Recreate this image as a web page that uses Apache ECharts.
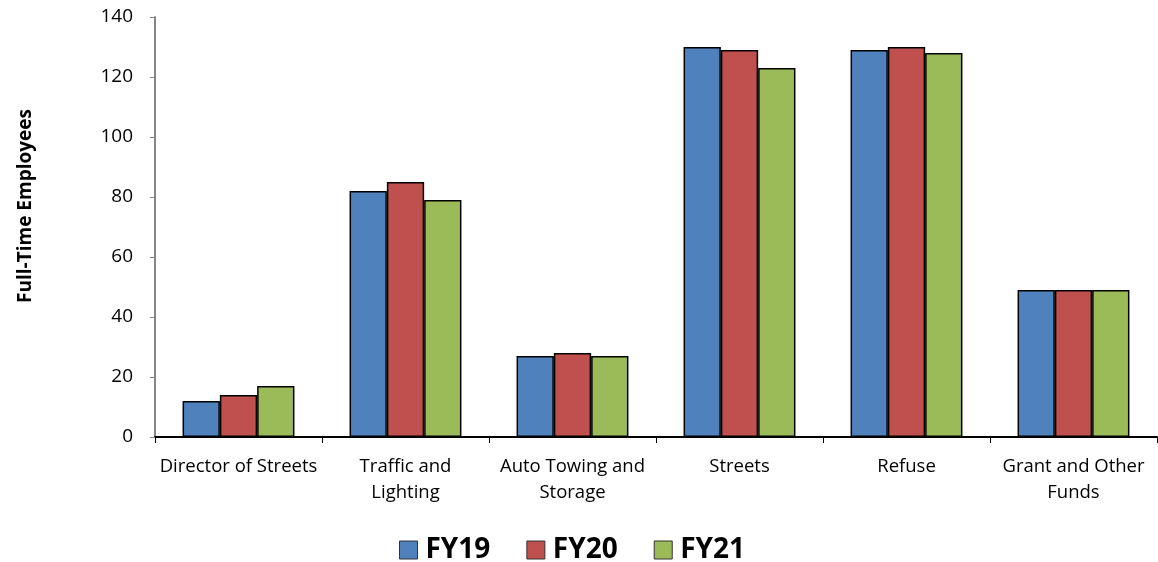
<!DOCTYPE html>
<html><head><meta charset="utf-8">
<script src="https://cdn.jsdelivr.net/npm/echarts@6/dist/echarts.min.js"></script>
<style>html,body{margin:0;padding:0;background:#fff}#c{width:1158px;height:562px}</style>
</head><body><div id="c"></div>
<script>
const categories = ["Director of Streets", "Traffic and\nLighting", "Auto Towing and\nStorage", "Streets", "Refuse", "Grant and Other\nFunds"];
const fy19 = [12, 82, 27, 130, 129, 49];
const fy20 = [14, 85, 28, 129, 130, 49];
const fy21 = [17, 79, 27, 123, 128, 49];
const seriesNames = ["FY19", "FY20", "FY21"];
const colors = ["#4F81BD", "#C0504D", "#9BBB59"];
const yTicks = [0, 20, 40, 60, 80, 100, 120, 140];

const font = "'Open Sans', sans-serif";
const chart = echarts.init(document.getElementById('c'), null, {renderer: 'canvas'});
const mk = (name, data, color) => ({
  name, type: 'bar', data, barGap: '0%', barCategoryGap: '33%',
  itemStyle: {color, borderColor: '#000', borderWidth: 1.5},
  emphasis: {disabled: true}
});
chart.setOption({
  animation: false,
  grid: {left: 155, right: 1, top: 17, bottom: 125, containLabel: false},
  legend: {
    data: seriesNames, top: 531, left: 394, icon: 'rect', itemWidth: 18, itemHeight: 18, itemGap: 36,
    textStyle: {fontFamily: font, fontSize: 28, fontWeight: 'bold', color: '#000', padding: [0, 0, 0, 3]},
    itemStyle: {borderColor: '#333', borderWidth: 1}
  },
  xAxis: {
    type: 'category', data: categories,
    axisLine: {lineStyle: {color: '#000', width: 2}},
    axisTick: {show: true, length: 6, lineStyle: {color: '#000', width: 1}},
    axisLabel: {fontFamily: font, fontSize: 18.5, color: '#000', margin: 17, lineHeight: 26, interval: 0}
  },
  yAxis: {
    type: 'value', min: yTicks[0], max: yTicks[yTicks.length - 1], interval: 20,
    name: 'Full-Time Employees', nameLocation: 'middle', nameGap: 120, nameRotate: 90,
    nameTextStyle: {fontFamily: font, fontSize: 19, fontWeight: 'bold', color: '#000', padding: [0, 0, 0, 42]},
    axisLine: {show: true, lineStyle: {color: '#868686', width: 2}},
    axisTick: {show: true, length: 5, lineStyle: {color: '#868686'}},
    splitLine: {show: false},
    axisLabel: {fontFamily: font, fontSize: 19, color: '#000', margin: 22}
  },
  series: [mk(seriesNames[0], fy19, colors[0]), mk(seriesNames[1], fy20, colors[1]), mk(seriesNames[2], fy21, colors[2])]
});
</script></body></html>
